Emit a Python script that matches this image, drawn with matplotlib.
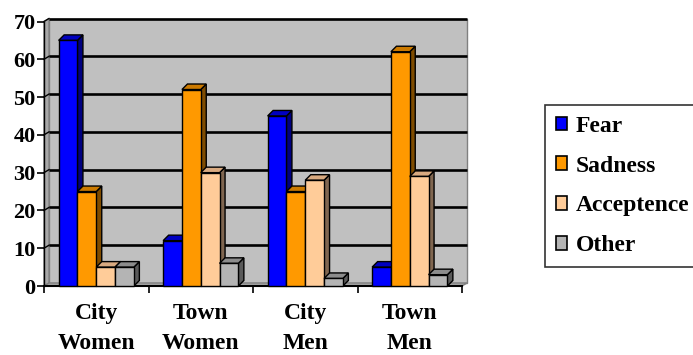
import matplotlib
matplotlib.use("Agg")
import matplotlib.pyplot as plt
from matplotlib.patches import Polygon, Rectangle, Patch

# Data
categories = ["City\nWomen", "Town\nWomen", "City\nMen", "Town\nMen"]
series = ["Fear", "Sadness", "Acceptence", "Other"]
fear = [65, 12, 45, 5]
sadness = [25, 52, 25, 62]
acceptence = [5, 30, 28, 29]
other = [5, 6, 2, 3]
values = [fear, sadness, acceptence, other]

# front / top / side face colours per series
front_cols = ["#0000ff", "#ff9900", "#ffcc99", "#b4b4b4"]
top_cols = ["#0000c0", "#cc7a00", "#d9aa80", "#8c8c8c"]
side_cols = ["#000080", "#7f4c00", "#806650", "#5a5a5a"]

plt.rcParams["font.family"] = ["Liberation Serif", "DejaVu Serif"]
plt.rcParams["font.weight"] = "bold"

W, H, DPI = 693, 355, 100
fig = plt.figure(figsize=(W / DPI, H / DPI), dpi=DPI)
fig.patch.set_facecolor("white")

# axes placed in pixel terms
x0, x1, y_bot, y_top = 44, 462, 286, 21.5
ax = fig.add_axes([x0 / W, 1 - y_bot / H, (x1 - x0) / W, (y_bot - y_top) / H])
ax.set_xlim(0, 4)
ax.set_ylim(0, 70)
ax.set_facecolor("none")

# pixel -> data unit factors
sx = 4 / (x1 - x0)
sy = 70 / (y_bot - y_top)

# back wall offset
wall_dx, wall_dy = 5 * sx, 3 * sy
wall = Rectangle((wall_dx, wall_dy), 4, 70, facecolor="#c0c0c0",
                 edgecolor="#808080", lw=1, zorder=0, clip_on=False)
ax.add_patch(wall)
# left side wall and floor
side_wall = Polygon([(0, 0), (wall_dx, wall_dy), (wall_dx, 70 + wall_dy), (0, 70)],
                    closed=True, facecolor="#a8a8a8", edgecolor="#808080",
                    lw=1, zorder=0.5, clip_on=False)
ax.add_patch(side_wall)
floor = Polygon([(0, 0), (4, 0), (4 + wall_dx, wall_dy), (wall_dx, wall_dy)],
                closed=True, facecolor="#a8a8a8", edgecolor="#808080",
                lw=1, zorder=0.5, clip_on=False)
ax.add_patch(floor)

# gridlines on back wall plus diagonal pieces on side wall
for v in range(10, 80, 10):
    ax.plot([wall_dx, 4 + wall_dx], [v + wall_dy, v + wall_dy], color="black",
            lw=1.9, zorder=1, clip_on=False, solid_capstyle="butt")
    ax.plot([0, wall_dx], [v, v + wall_dy], color="black", lw=1.0,
            zorder=1, clip_on=False)

# 3D bars
bw = 0.18
start = 0.14
bdx, bdy = 5.5 * sx, 5.5 * sy
z = 2
for i in range(len(categories)):
    for j, vals in enumerate(values):
        v = vals[i]
        x = i + start + j * bw
        side = Polygon([(x + bw, 0), (x + bw + bdx, bdy), (x + bw + bdx, v + bdy), (x + bw, v)],
                       closed=True, facecolor=side_cols[j], edgecolor="black",
                       lw=1.0, zorder=z, clip_on=False)
        top = Polygon([(x, v), (x + bw, v), (x + bw + bdx, v + bdy), (x + bdx, v + bdy)],
                      closed=True, facecolor=top_cols[j], edgecolor="black",
                      lw=1.0, zorder=z, clip_on=False)
        ax.add_patch(side)
        ax.add_patch(top)
        ax.bar(x, v, width=bw, align="edge", color=front_cols[j],
               edgecolor="black", lw=1.0, zorder=z + 0.1, clip_on=False)
        z += 0.2

# spines and ticks
for s in ["top", "right"]:
    ax.spines[s].set_visible(False)
ax.spines["left"].set_color("black")
ax.spines["left"].set_linewidth(1.0)
ax.spines["left"].set_zorder(1.5)
ax.spines["bottom"].set_color("black")
ax.spines["bottom"].set_linewidth(1.5)
ax.spines["bottom"].set_zorder(1.5)

ax.set_yticks(range(0, 80, 10))
ax.tick_params(axis="y", direction="out", length=5, width=1.2, labelsize=16, pad=1)
ax.set_xticks(range(0, 5))
ax.set_xticklabels([])
ax.tick_params(axis="x", which="major", direction="out", length=5, width=1.2)
ax.set_xticks([i + 0.5 for i in range(len(categories))], minor=True)
ax.set_xticklabels(categories, minor=True, fontsize=17, linespacing=1.6)
ax.tick_params(axis="x", which="minor", length=0, pad=12)
for lab in ax.get_yticklabels() + ax.get_xticklabels(minor=True):
    lab.set_fontweight("bold")

# legend
handles = [Patch(facecolor=c, edgecolor="black", lw=1.2) for c in front_cols]
leg = fig.legend(handles, series, loc="upper left",
                 bbox_to_anchor=(545 / W, 1 - 105 / H),
                 prop={"size": 17, "weight": "bold"},
                 frameon=True, fancybox=False, edgecolor="black",
                 handlelength=0.5, handleheight=0.5, handletextpad=0.35,
                 labelspacing=0.8, borderpad=0.45, borderaxespad=0)
leg.get_frame().set_linewidth(1.2)

fig.savefig("out.png", dpi=DPI, facecolor="white")
